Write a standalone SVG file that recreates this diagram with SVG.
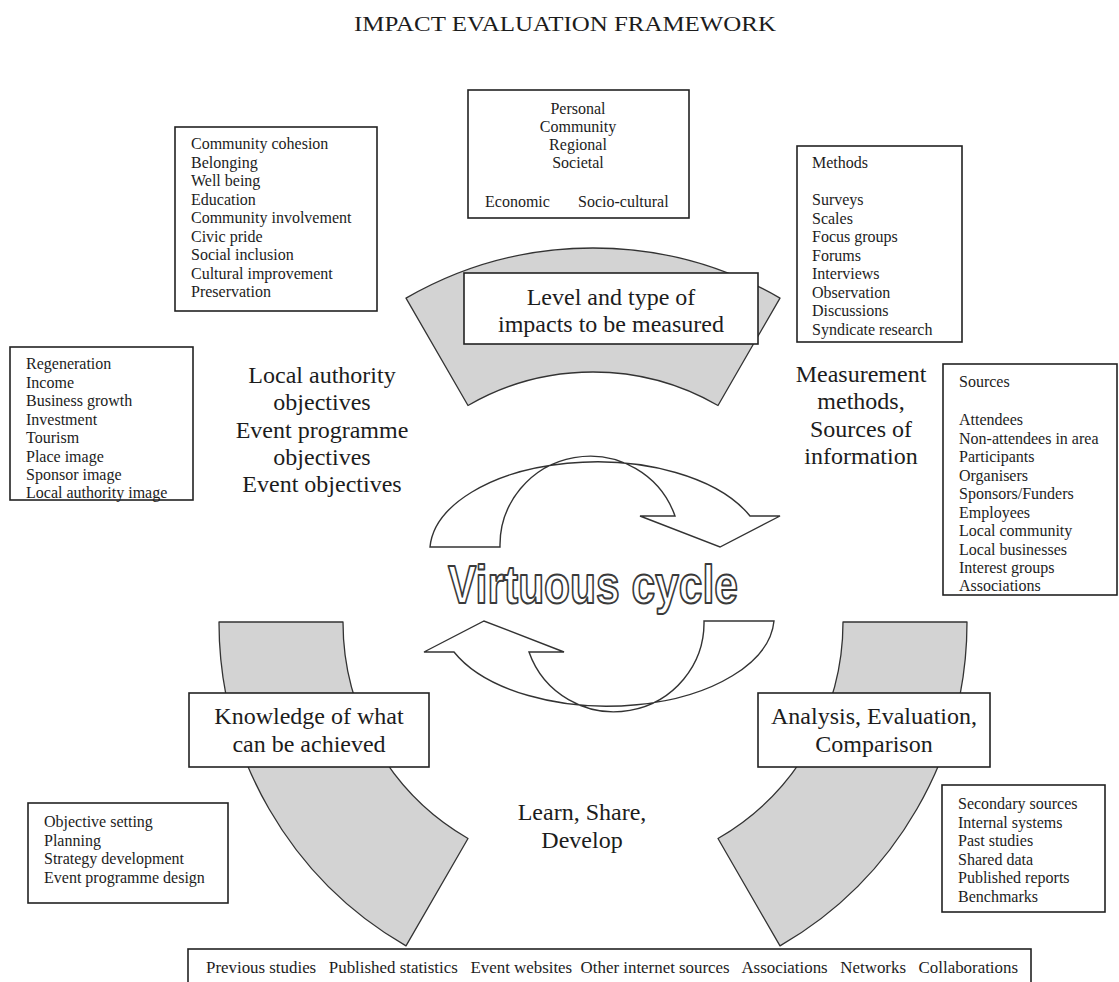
<svg xmlns="http://www.w3.org/2000/svg" width="1119" height="982" viewBox="0 0 1119 982">
  <style>
    .box { fill: #ffffff; stroke: #222222; stroke-width: 1.6; }
    .band { fill: #d3d3d3; stroke: #333333; stroke-width: 1.3; stroke-linejoin: round; }
    .cyc { fill: #ffffff; stroke: #333333; stroke-width: 1.4; stroke-linejoin: miter; }
    text { font-family: "Liberation Serif", "Times New Roman", serif; fill: #1c1c1c; }
    .sm { font-size: 16px; }
    .lg { font-size: 24px; }
    .mid { text-anchor: middle; }
    .outline { font-family: "Liberation Sans", Arial, sans-serif; font-weight: 900; font-size: 54px; fill: #ffffff; stroke: #3a3a3a; stroke-width: 2; stroke-linejoin: round; }
  </style>

  <rect x="0" y="0" width="1119" height="982" fill="#ffffff"/>

  <!-- title -->
  <text id="title" x="565" y="31" class="mid" font-size="22" textLength="422" lengthAdjust="spacingAndGlyphs">IMPACT EVALUATION FRAMEWORK</text>

  <!-- connectors: grey ring segments and the two cycle arrows -->
  <g id="connectors">
    <!-- ring centred at (593,622), inner r 250, outer r 374 -->
    <path id="band-top" class="band" d="M406,298.1 A374 374 0 0 1 780,298.1 L718,405.5 A250 250 0 0 0 468,405.5 Z"/>
    <path id="band-left" class="band" d="M219,622 L343,622 A250 250 0 0 0 468,838.5 L406,945.9 A374 374 0 0 1 219,622 Z"/>
    <path id="band-right" class="band" d="M843,622 L967,622 A374 374 0 0 1 780,945.9 L718,838.5 A250 250 0 0 0 843,622 Z"/>

    <!-- curved arrows of the cycle -->
    <path id="cycle-upper" class="cyc" d="M430,547 A167 90 0 0 1 750,516 L780,516 L720,547 L640,516 L675,516 A90 89 0 0 0 500,547 Z"/>
    <path id="cycle-lower" class="cyc" transform="rotate(180 602 584)" d="M430,547 A167 90 0 0 1 750,516 L780,516 L720,547 L640,516 L675,516 A90 89 0 0 0 500,547 Z"/>
  </g>

  <!-- centre label -->
  <g id="virtuous-cycle">
    <text class="outline mid" x="593" y="603" textLength="290" lengthAdjust="spacingAndGlyphs">Virtuous cycle</text>
  </g>

  <!-- levels and types of impact -->
  <g id="node-levels">
    <rect class="box" x="468" y="90" width="221" height="128"/>
    <text class="sm mid" x="578" y="114">Personal</text>
    <text class="sm mid" x="578" y="132">Community</text>
    <text class="sm mid" x="578" y="150">Regional</text>
    <text class="sm mid" x="578" y="168">Societal</text>
    <text class="sm" x="485" y="207">Economic</text>
    <text class="sm" x="578" y="207">Socio-cultural</text>
  </g>

  <!-- socio-cultural objectives -->
  <g id="node-social">
    <rect class="box" x="175" y="127" width="202" height="184"/>
    <text class="sm" x="191" y="149">Community cohesion</text>
    <text class="sm" x="191" y="167.5">Belonging</text>
    <text class="sm" x="191" y="186">Well being</text>
    <text class="sm" x="191" y="204.5">Education</text>
    <text class="sm" x="191" y="223">Community involvement</text>
    <text class="sm" x="191" y="241.5">Civic pride</text>
    <text class="sm" x="191" y="260">Social inclusion</text>
    <text class="sm" x="191" y="278.5">Cultural improvement</text>
    <text class="sm" x="191" y="297">Preservation</text>
  </g>

  <!-- methods -->
  <g id="node-methods">
    <rect class="box" x="797" y="146" width="165" height="196"/>
    <text class="sm" x="812" y="168">Methods</text>
    <text class="sm" x="812" y="205">Surveys</text>
    <text class="sm" x="812" y="223.5">Scales</text>
    <text class="sm" x="812" y="242">Focus groups</text>
    <text class="sm" x="812" y="260.5">Forums</text>
    <text class="sm" x="812" y="279">Interviews</text>
    <text class="sm" x="812" y="297.5">Observation</text>
    <text class="sm" x="812" y="316">Discussions</text>
    <text class="sm" x="812" y="334.5">Syndicate research</text>
  </g>

  <!-- economic objectives -->
  <g id="node-economic">
    <rect class="box" x="10" y="347" width="183" height="153"/>
    <text class="sm" x="26" y="369">Regeneration</text>
    <text class="sm" x="26" y="387.5">Income</text>
    <text class="sm" x="26" y="406">Business growth</text>
    <text class="sm" x="26" y="424.5">Investment</text>
    <text class="sm" x="26" y="443">Tourism</text>
    <text class="sm" x="26" y="461.5">Place image</text>
    <text class="sm" x="26" y="480">Sponsor image</text>
    <text class="sm" x="26" y="498">Local authority image</text>
  </g>

  <!-- sources -->
  <g id="node-sources">
    <rect class="box" x="943" y="364" width="174" height="231"/>
    <text class="sm" x="959" y="387">Sources</text>
    <text class="sm" x="959" y="425">Attendees</text>
    <text class="sm" x="959" y="443.5">Non-attendees in area</text>
    <text class="sm" x="959" y="462">Participants</text>
    <text class="sm" x="959" y="480.5">Organisers</text>
    <text class="sm" x="959" y="499">Sponsors/Funders</text>
    <text class="sm" x="959" y="517.5">Employees</text>
    <text class="sm" x="959" y="536">Local community</text>
    <text class="sm" x="959" y="554.5">Local businesses</text>
    <text class="sm" x="959" y="573">Interest groups</text>
    <text class="sm" x="959" y="591">Associations</text>
  </g>

  <!-- free labels -->
  <g id="label-objectives">
    <text class="lg mid" x="322" y="383">Local authority</text>
    <text class="lg mid" x="322" y="410">objectives</text>
    <text class="lg mid" x="322" y="437.5">Event programme</text>
    <text class="lg mid" x="322" y="465">objectives</text>
    <text class="lg mid" x="322" y="492">Event objectives</text>
  </g>
  <g id="label-measurement">
    <text class="lg mid" x="861" y="382">Measurement</text>
    <text class="lg mid" x="861" y="409">methods,</text>
    <text class="lg mid" x="861" y="437">Sources of</text>
    <text class="lg mid" x="861" y="464">information</text>
  </g>
  <g id="label-learn">
    <text class="lg mid" x="582" y="820">Learn, Share,</text>
    <text class="lg mid" x="582" y="848">Develop</text>
  </g>

  <!-- labels sitting on the ring -->
  <g id="node-level-type">
    <rect class="box" x="464" y="273" width="294" height="71"/>
    <text class="lg mid" x="611" y="305">Level and type of</text>
    <text class="lg mid" x="611" y="332">impacts to be measured</text>
  </g>
  <g id="node-knowledge">
    <rect class="box" x="189" y="693" width="240" height="74"/>
    <text class="lg mid" x="309" y="724">Knowledge of what</text>
    <text class="lg mid" x="309" y="752">can be achieved</text>
  </g>
  <g id="node-analysis">
    <rect class="box" x="758" y="693" width="232" height="74"/>
    <text class="lg mid" x="874" y="724">Analysis, Evaluation,</text>
    <text class="lg mid" x="874" y="752">Comparison</text>
  </g>

  <!-- planning uses -->
  <g id="node-planning">
    <rect class="box" x="28" y="803" width="200" height="100"/>
    <text class="sm" x="44" y="827">Objective setting</text>
    <text class="sm" x="44" y="845.5">Planning</text>
    <text class="sm" x="44" y="864">Strategy development</text>
    <text class="sm" x="44" y="882.5">Event programme design</text>
  </g>

  <!-- data sources -->
  <g id="node-secondary">
    <rect class="box" x="942" y="785" width="163" height="127"/>
    <text class="sm" x="958" y="809">Secondary sources</text>
    <text class="sm" x="958" y="827.5">Internal systems</text>
    <text class="sm" x="958" y="846">Past studies</text>
    <text class="sm" x="958" y="864.5">Shared data</text>
    <text class="sm" x="958" y="883">Published reports</text>
    <text class="sm" x="958" y="901.5">Benchmarks</text>
  </g>

  <!-- external knowledge strip -->
  <g id="node-external">
    <rect class="box" x="188" y="949" width="843" height="45"/>
    <text class="sm" x="206" y="973" font-size="15" textLength="812" lengthAdjust="spacingAndGlyphs" xml:space="preserve">Previous studies   Published statistics   Event websites  Other internet sources   Associations   Networks   Collaborations</text>
  </g>
</svg>
